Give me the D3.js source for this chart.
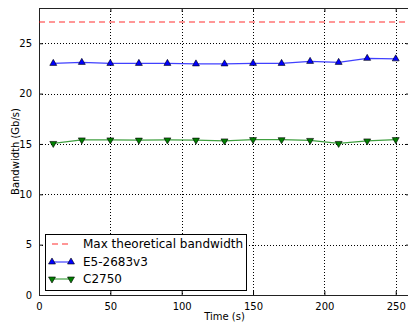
<!DOCTYPE html>
<html>
<head>
<meta charset="utf-8">
<script src="https://cdn.jsdelivr.net/npm/d3@7"></script>
<style>
  body { margin: 0; background: #fff; }
  text { font-family: "DejaVu Sans", sans-serif; }
</style>
</head>
<body>
<div id="chart"></div>
<script>
var width = 408;
var height = 324;

// data
var times = [10, 30, 50, 70, 90, 110, 130, 150, 170, 190, 210, 230, 250];
var e5 = [23.0, 23.1, 23.0, 23.0, 23.0, 22.95, 22.95, 23.0, 23.0, 23.2, 23.1, 23.5, 23.45];
var c2750 = [15.05, 15.4, 15.4, 15.38, 15.4, 15.38, 15.3, 15.43, 15.42, 15.35, 15.05, 15.3, 15.43];
var maxBw = 27.1;
var xTicks = [0, 50, 100, 150, 200, 250];
var yTicks = [0, 5, 10, 15, 20, 25];
var legendLabels = ["Max theoretical bandwidth", "E5-2683v3", "C2750"];

// plot box (right edge runs past the picture, as in the original)
var pLeft = 39, pRight = 410, pTop = 8, pBottom = 295;

var svg = d3.select("#chart")
  .append("svg")
  .attr("width", width)
  .attr("height", height);

var x = d3.scaleLinear().domain([0, 260]).range([pLeft, pRight]);
var y = d3.scaleLinear().domain([0, 28.5]).range([pBottom, pTop]);

// grid
var grid = svg.append("g");
grid.selectAll(".gx").data(xTicks.slice(1)).enter().append("line")
  .attr("x1", function(d) { return Math.round(x(d)) + 0.5; })
  .attr("x2", function(d) { return Math.round(x(d)) + 0.5; })
  .attr("y1", pTop).attr("y2", pBottom)
  .attr("stroke", "#000").attr("stroke-width", 1).attr("stroke-dasharray", "1,2");
grid.selectAll(".gy").data(yTicks.slice(1)).enter().append("line")
  .attr("x1", pLeft).attr("x2", pRight)
  .attr("y1", function(d) { return Math.round(y(d)) + 0.5; })
  .attr("y2", function(d) { return Math.round(y(d)) + 0.5; })
  .attr("stroke", "#000").attr("stroke-width", 1).attr("stroke-dasharray", "1,2");

// axes (ticks pointing inward, like matplotlib classic)
svg.append("g")
  .attr("transform", "translate(0," + pBottom + ")")
  .call(d3.axisBottom(x).tickValues(xTicks).tickSize(-4).tickPadding(8));
svg.append("g")
  .attr("transform", "translate(" + pLeft + ",0)")
  .call(d3.axisLeft(y).tickValues(yTicks).tickSize(-4).tickPadding(7));
svg.append("g")
  .attr("transform", "translate(0," + pTop + ")")
  .call(d3.axisTop(x).tickValues(xTicks).tickSize(-4).tickFormat(""));
svg.append("g")
  .attr("transform", "translate(" + pRight + ",0)")
  .call(d3.axisRight(y).tickValues(yTicks).tickSize(-4).tickFormat(""));
svg.selectAll(".domain").remove();
svg.selectAll(".tick line").attr("stroke", "#000");
svg.selectAll(".tick text").style("font-size", "10px").attr("fill", "#000")
  .style("font-family", "DejaVu Sans");

// frame
svg.append("rect")
  .attr("x", pLeft + 0.5).attr("y", pTop + 0.5)
  .attr("width", pRight - pLeft).attr("height", pBottom - pTop)
  .attr("fill", "none").attr("stroke", "#222").attr("stroke-width", 1);

// max line
svg.append("line")
  .attr("x1", pLeft).attr("x2", pRight)
  .attr("y1", y(maxBw)).attr("y2", y(maxBw))
  .attr("stroke", "#ff0000").attr("stroke-opacity", 0.55)
  .attr("stroke-width", 1.5).attr("stroke-dasharray", "6,4");

var tri = d3.symbol().type(d3.symbolTriangle).size(21);

function series(vals, color, down) {
  var line = d3.line()
    .x(function(d, i) { return x(times[i]); })
    .y(function(d) { return y(d); });
  svg.append("path")
    .datum(vals)
    .attr("d", line)
    .attr("fill", "none")
    .attr("stroke", color)
    .attr("stroke-opacity", 0.75)
    .attr("stroke-width", 1.2);
  svg.append("g").selectAll("path")
    .data(vals)
    .enter()
    .append("path")
    .attr("d", tri)
    .attr("transform", function(d, i) {
      return "translate(" + x(times[i]) + "," + y(d) + ")" + (down ? " rotate(180)" : "");
    })
    .attr("fill", color)
    .attr("stroke", "#000")
    .attr("stroke-width", 0.6);
}
series(e5, "#0000ff", false);
series(c2750, "#007f00", true);

// axis labels
svg.append("text")
  .attr("x", (pLeft + pRight) / 2).attr("y", 320)
  .attr("text-anchor", "middle")
  .style("font-size", "10px")
  .text("Time (s)");
svg.append("text")
  .attr("transform", "translate(15," + ((pTop + pBottom) / 2) + ") rotate(-90)")
  .attr("text-anchor", "middle")
  .attr("dy", "0.35em")
  .style("font-size", "10px")
  .text("Bandwidth (Gb/s)");

// legend
var lg = svg.append("g");
lg.append("rect")
  .attr("x", 45.5).attr("y", 234.5).attr("width", 201).attr("height", 56)
  .attr("fill", "#fff").attr("stroke", "#000").attr("stroke-width", 1);
var rows = [244, 262, 279];
lg.append("line")
  .attr("x1", 51).attr("x2", 72).attr("y1", rows[0]).attr("y2", rows[0])
  .attr("stroke", "#ff0000").attr("stroke-opacity", 0.55)
  .attr("stroke-width", 1.5).attr("stroke-dasharray", "6,4").attr("stroke-dashoffset", -1);
[[e5, "#0000ff", false], [c2750, "#007f00", true]].forEach(function(s, k) {
  var yy = rows[k + 1];
  lg.append("line")
    .attr("x1", 52).attr("x2", 71).attr("y1", yy).attr("y2", yy)
    .attr("stroke", s[1]).attr("stroke-opacity", 0.75).attr("stroke-width", 1.2);
  [52, 71].forEach(function(px) {
    lg.append("path")
      .attr("d", tri)
      .attr("transform", "translate(" + px + "," + yy + ")" + (s[2] ? " rotate(180)" : ""))
      .attr("fill", s[1]).attr("stroke", "#000").attr("stroke-width", 0.6);
  });
});
lg.selectAll(".lt").data(legendLabels).enter().append("text")
  .attr("x", 83)
  .attr("y", function(d, i) { return rows[i]; })
  .attr("dy", "0.35em")
  .style("font-size", "12px")
  .text(function(d) { return d; });
</script>
</body>
</html>
